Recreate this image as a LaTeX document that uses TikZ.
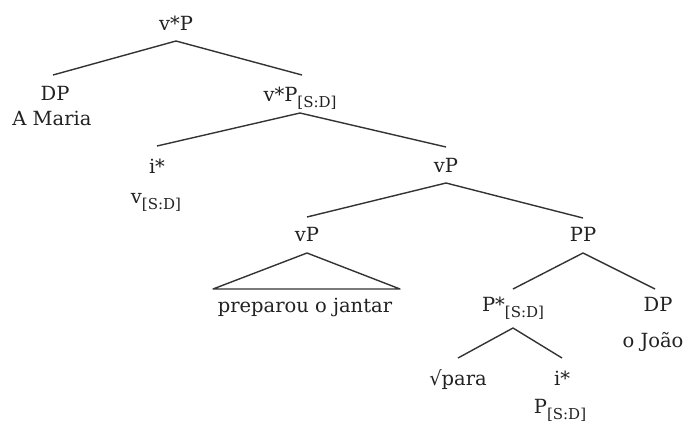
\documentclass[tikz,border=0pt]{standalone}
\usepackage{fontspec}
\setmainfont{DejaVu Serif}
\newfontfamily\symf{DejaVu Sans}
\definecolor{ink}{HTML}{222222}
\definecolor{linec}{HTML}{333333}
\newcommand\sbs[1]{\raisebox{-6pt}{\fontsize{15}{15}\selectfont #1}}
\begin{document}
\begin{tikzpicture}[x=1pt,y=-1pt,
  lab/.style={anchor=base, inner sep=0pt, text=ink, font=\fontsize{19.5}{20}\selectfont},
  br/.style={draw=linec, line width=1.4pt, line join=round}]
\useasboundingbox[fill=white] (0,0) rectangle (687,424);
% nodes
\node[lab] (root)  at (176,30)  {v*P};
\node[lab] (dpA)   at (55,100)  {DP};
\node[lab] (maria) at (52,125)  {A Maria};
\node[lab] (vsp)   at (300,101) {v*P\sbs{[S:D]}};
\node[lab] (istA)  at (157,173) {i*};
\node[lab] (vsd)   at (156,203) {v\sbs{[S:D]}};
\node[lab] (vpA)   at (446,172) {vP};
\node[lab] (vpB)   at (307,241) {vP};
\node[lab] (pp)    at (583,241) {PP};
\node[lab] (prep)  at (305,312) {preparou o jantar};
\node[lab] (psd)   at (513,311) {P*\sbs{[S:D]}};
\node[lab] (dpB)   at (658,311) {DP};
\node[lab] (joao)  at (653,347) {o João};
\node[lab] (para)  at (458,385) {{\symf √}para};
\node[lab] (istB)  at (562,385) {i*};
\node[lab] (pscd)  at (560,413) {P\sbs{[S:D]}};
% branches
\draw[br] ([xshift=-2pt,yshift=25pt]dpA.base) -- ([yshift=-11pt]root.base) -- ([xshift=2pt,yshift=26pt]vsp.base);
\draw[br] ([yshift=27pt]istA.base) -- ([yshift=-12pt]vsp.base) -- ([yshift=25pt]vpA.base);
\draw[br] ([yshift=24pt]vpB.base) -- ([yshift=-11pt]vpA.base) -- ([yshift=23pt]pp.base);
\coordinate (tl) at ([xshift=-92pt,yshift=23pt]prep.base);
\coordinate (tr) at ([xshift=95pt,yshift=23pt]prep.base);
\draw[br] (tl) -- ([yshift=-12pt]vpB.base) -- (tr) -- cycle;
\draw[br] ([yshift=22pt]psd.base) -- ([yshift=-12pt]pp.base) -- ([xshift=-3pt,yshift=22pt]dpB.base);
\draw[br] ([yshift=27pt]para.base) -- ([yshift=-17pt]psd.base) -- ([yshift=27pt]istB.base);
\end{tikzpicture}
\end{document}
